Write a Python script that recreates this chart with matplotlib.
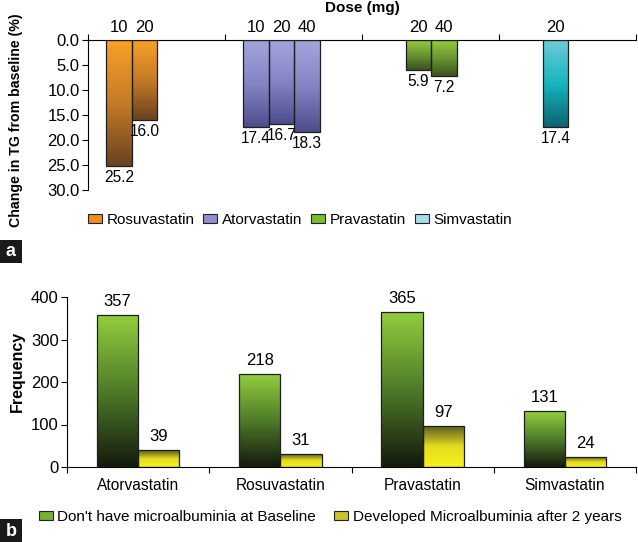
import numpy as np
import matplotlib
matplotlib.use('Agg')
import matplotlib.pyplot as plt
from matplotlib.colors import LinearSegmentedColormap
from matplotlib.patches import Patch, Rectangle

plt.rcParams['font.family'] = ['Liberation Sans', 'DejaVu Sans']
plt.rcParams['font.size'] = 10

# panel a data
drugs_a = ['Rosuvastatin', 'Atorvastatin', 'Pravastatin', 'Simvastatin']
doses_a = [[10, 20], [10, 20, 40], [20, 40], [20]]
tg_change = [[25.2, 16.0], [17.4, 16.7, 18.3], [5.9, 7.2], [17.4]]

# panel b data
drugs_b = ['Atorvastatin', 'Rosuvastatin', 'Pravastatin', 'Simvastatin']
no_micro = [357, 218, 365, 131]
developed = [39, 31, 97, 24]
series_b = ["Don't have microalbuminia at Baseline", 'Developed Microalbuminia after 2 years']

# colours (value 0 -> end of bar)
grad_a = [['#f7a028', '#c47a26', '#6a4220'],
          ['#a4a4dc', '#8484c4', '#4e4e8c'],
          ['#92cc3e', '#6a9430', '#3a5220'],
          ['#6ccbd8', '#16b4bc', '#0a6470']]
legend_a = ['#f08c1e', '#9090d0', '#7cbc34', '#a8dce6']
grad_b = [['#141a0c', '#4e7a28', '#90cc3c'],
          ['#f6f01c', '#e2dc1e', '#5e5c22']]
legend_b = ['#78b030', '#c8c428']

# slot of each dose inside a group
slot_left = {10: 0.135, 20: 0.32, 40: 0.505}
slot_w = 0.185


def grad_bar(ax, x0, w, h, colors, n=80):
    # gradient bar as a stack of thin slices
    cmap = LinearSegmentedColormap.from_list('g', colors)
    edges = np.linspace(0, h, n + 1)
    ax.bar(np.full(n, x0), np.diff(edges), bottom=edges[:-1], width=w, align='edge',
           color=cmap(np.linspace(0, 1, n)), lw=0, antialiased=False, zorder=2)
    ax.add_patch(Rectangle((x0, 0), w, h, fill=False, ec='#1e1e1e', lw=0.9, zorder=3))


fig = plt.figure(figsize=(6.38, 5.42), dpi=100)

# ---- panel a ----
ax = fig.add_axes([88 / 638, 1 - 190 / 542, 548 / 638, 150 / 542])
for i, drug in enumerate(drugs_a):
    for dose, val in zip(doses_a[i], tg_change[i]):
        x0 = i + slot_left[dose]
        grad_bar(ax, x0, slot_w, val, grad_a[i])
        ax.annotate(str(dose), (x0 + slot_w / 2, 0), xytext=(0, 3.5), textcoords='offset points',
                    ha='center', va='bottom', fontsize=12)
        ax.annotate('%.1f' % val, (x0 + slot_w / 2, val), xytext=(0, -3), textcoords='offset points',
                    ha='center', va='top', fontsize=11.2)
ax.set_xlim(0, 4)
ax.set_ylim(30, 0)
ax.set_yticks(np.arange(0, 31, 5))
ax.set_yticklabels(['%.1f' % v for v in np.arange(0, 31, 5)], fontsize=12)
ax.set_xticks(range(5))
ax.xaxis.tick_top()
ax.set_xticklabels([])
for s in ['right', 'bottom']:
    ax.spines[s].set_visible(False)
ax.tick_params(length=4, width=0.8, pad=2)
fig.text(362 / 638, 1 - 8 / 542, 'Dose (mg)', ha='center', va='center', fontsize=11, fontweight='bold')
fig.text(16 / 638, 1 - 120 / 542, 'Change in TG from baseline (%)', rotation=90,
         ha='center', va='center', fontsize=10.2, fontweight='bold')
fig.legend([Patch(fc=c, ec='#222222', lw=0.8) for c in legend_a], drugs_a, ncol=4,
           loc='center', bbox_to_anchor=(300 / 638, 1 - 220 / 542), frameon=False,
           handlelength=0.9, handleheight=0.6, handletextpad=0.3, columnspacing=0.6, fontsize=11)

# ---- panel b ----
bx = fig.add_axes([67 / 638, 1 - 467 / 542, 569 / 638, 170 / 542])
bw = 0.29
for i in range(len(drugs_b)):
    for j, vals in enumerate([no_micro, developed]):
        x0 = i + 0.5 - bw + j * bw
        grad_bar(bx, x0, bw, vals[i], grad_b[j])
        bx.annotate(str(vals[i]), (x0 + bw / 2, vals[i]), xytext=(0, 4.5), textcoords='offset points',
                    ha='center', va='bottom', fontsize=12)
bx.set_xlim(0, 4)
bx.set_ylim(0, 400)
bx.set_yticks([0, 100, 200, 300, 400])
bx.set_xticks(range(5))
bx.set_xticklabels([])
bx.set_xticks(np.arange(4) + 0.5, minor=True)
bx.set_xticklabels(drugs_b, minor=True, fontsize=11.2)
bx.tick_params(axis='x', which='minor', length=0, pad=8)
bx.tick_params(which='major', length=4, width=0.8, labelsize=12, pad=2)
for s in ['right', 'top']:
    bx.spines[s].set_visible(False)
fig.text(17 / 638, 1 - 371 / 542, 'Frequency', rotation=90, ha='center', va='center',
         fontsize=11.5, fontweight='bold')
fig.legend([Patch(fc=c, ec='#222222', lw=0.8) for c in legend_b], series_b, ncol=2,
           loc='center', bbox_to_anchor=(330 / 638, 1 - 517 / 542), frameon=False,
           handlelength=0.9, handleheight=0.6, handletextpad=0.3, columnspacing=1.2, fontsize=11)

# panel letters
for letter, ytop in [('a', 240), ('b', 519)]:
    fig.add_artist(Rectangle((0, 1 - (ytop + 23) / 542), 22 / 638, 23 / 542,
                             transform=fig.transFigure, fc='#1a1a1a', ec='none'))
    fig.text(11 / 638, 1 - (ytop + 12) / 542, letter, color='white', ha='center', va='center',
             fontsize=13, fontweight='bold')

fig.savefig('out.png', dpi=100)
